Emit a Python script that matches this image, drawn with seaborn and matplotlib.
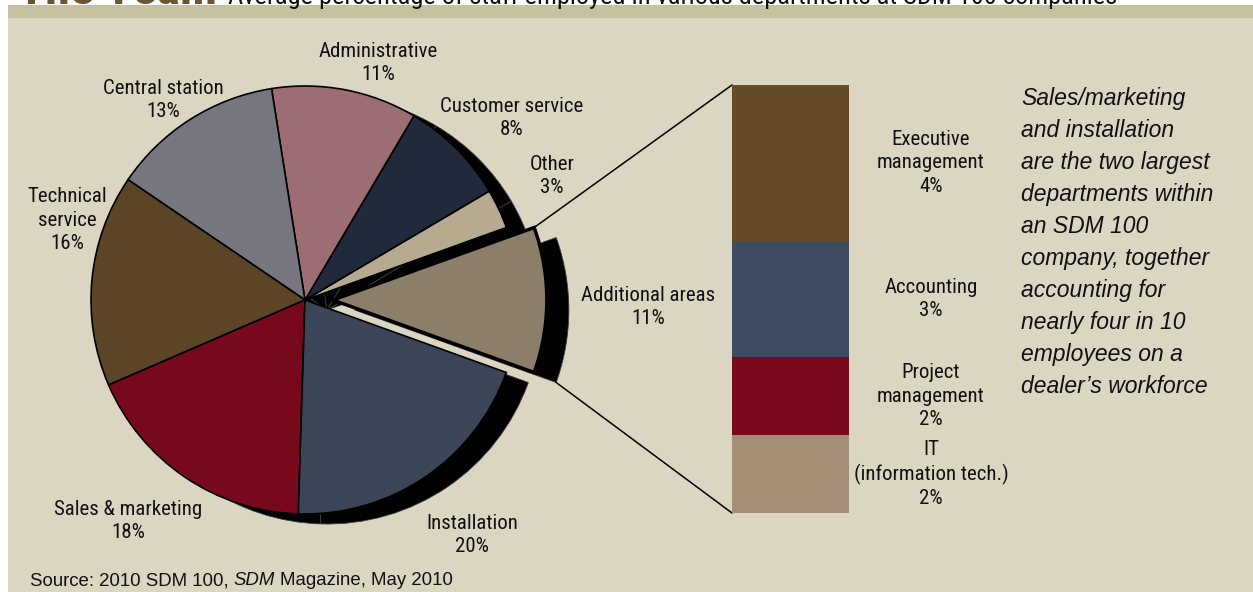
import matplotlib
matplotlib.use("Agg")
import matplotlib.pyplot as plt
import seaborn as sns
import numpy as np
from matplotlib import font_manager
from matplotlib.patches import Rectangle

# ---------------- data ----------------
slice_labels = ["Additional areas", "Other", "Customer service", "Administrative",
                "Central station", "Technical\nservice", "Sales & marketing", "Installation"]
slice_values = [11, 3, 8, 11, 13, 16, 18, 20]
slice_colors = ["#8c7f6a", "#b6ab8f", "#212a3a", "#9c6e73",
                "#76767e", "#5c4524", "#78091d", "#3a4557"]

detail_labels = ["IT\n(information tech.)", "Project\nmanagement", "Accounting", "Executive\nmanagement"]
detail_values = [2, 2, 3, 4]
detail_colors = ["#a38f76", "#7a091d", "#3f4c5f", "#654b28"]

title_text = "The Team"
subtitle_text = "Average percentage of staff employed in various departments at SDM 100 companies"
note_lines = ["Sales/marketing", "and installation", "are the two largest",
              "departments within", "an SDM 100", "company, together",
              "accounting for", "nearly four in 10", "employees on a",
              "dealer\u2019s workforce"]

# ---------------- layout ----------------
W, H = 1253, 592
BG = "#dbd6c1"
BAND = "#c6c29f"
label_pos = [(648, 307), (552, 176), (512, 118), (378, 63),
             (163, 100), (67, 220), (128, 521), (472, 535)]

sns.set_theme(style="white")
names = {f.name for f in font_manager.fontManager.ttflist}
if "Liberation Sans Narrow" in names:
    narrow_kw = dict(family=["Liberation Sans Narrow", "DejaVu Sans"])
elif "Roboto Condensed" in names:
    narrow_kw = dict(family=["Roboto Condensed", "DejaVu Sans"])
else:
    narrow_kw = dict(family=["DejaVu Sans"], fontstretch="condensed")
reg_family = ["Liberation Sans", "DejaVu Sans"] if "Liberation Sans" in names else ["DejaVu Sans"]
plt.rcParams["font.family"] = reg_family

fig = plt.figure(figsize=(W / 100, H / 100), dpi=100, facecolor="white")
ax = fig.add_axes([0, 0, 1, 1])
ax.set_facecolor("none")

def Y(y):
    return H - y

# background panel & band
ax.add_patch(Rectangle((8, 0), W - 8, H - 18, facecolor=BG, edgecolor="none", zorder=-10))
ax.add_patch(Rectangle((8, H - 18), W - 8, 13, facecolor=BAND, edgecolor="none", zorder=-10))

cx, cy, R = 305, Y(300), 214
explode = [0.13 * R] + [0] * (len(slice_values) - 1)
start = -180 * slice_values[0] / sum(slice_values)
sx, sy = 22, -10

shadow, _ = ax.pie(slice_values, colors=["black"] * len(slice_values), startangle=start,
                   explode=explode, center=(cx + sx, cy + sy), radius=R,
                   wedgeprops=dict(edgecolor="#3a3a3a", linewidth=0.6))
wedges, _ = ax.pie(slice_values, colors=slice_colors, startangle=start,
                   explode=explode, center=(cx, cy), radius=R,
                   wedgeprops=dict(edgecolor="black", linewidth=1.2))
wedges[0].set_linewidth(2.5)
ax.set_aspect("auto")
ax.set_xlim(0, W)
ax.set_ylim(0, H)
ax.axis("off")

lab_fs = 15
lsp = 1.3
for (lab, v, (lx, ly)) in zip(slice_labels, slice_values, label_pos):
    ax.text(lx, Y(ly), f"{lab}\n{v}%", ha="center", va="center", fontsize=lab_fs,
            linespacing=lsp, color="#111111", **narrow_kw)

# detail bar
bx0, bx1, by0, by1 = 732, 849, 85, 513
axb = fig.add_axes([bx0 / W, (H - by1) / H, (bx1 - bx0) / W, (by1 - by0) / H])
axb.set_facecolor("none")
cum = np.cumsum(detail_values)
for c, col in zip(cum[::-1], detail_colors[::-1]):
    sns.barplot(x=["Additional areas"], y=[c], color=col, width=1, saturation=1,
                linewidth=0, ax=axb)
axb.set_xlim(-0.5, 0.5)
axb.set_ylim(0, cum[-1])
axb.axis("off")
mids = cum - np.array(detail_values) / 2
for lab, v, m in zip(detail_labels, detail_values, mids):
    axb.text(1.2, m, f"{lab}\n{v}%", ha="center", va="center", fontsize=lab_fs,
             linespacing=lsp, color="#111111", clip_on=False, **narrow_kw)

# connector lines
w0 = wedges[0]
t2 = np.deg2rad(w0.theta2)
p_up = (w0.center[0] + w0.r * np.cos(t2), w0.center[1] + w0.r * np.sin(t2))
s0 = shadow[0]
t1 = np.deg2rad(s0.theta1)
p_dn = (s0.center[0] + s0.r * np.cos(t1), s0.center[1] + s0.r * np.sin(t1))
ax.plot([p_up[0], bx0], [p_up[1], Y(by0)], color="black", lw=1.1)
ax.plot([p_dn[0], bx0], [p_dn[1], Y(by1)], color="black", lw=1.1)

# note text
for i, line in enumerate(note_lines):
    ax.text(1021, Y(105 + 32 * i), line, ha="left", va="baseline", fontsize=16.5,
            style="italic", color="#111111")

# title (cut off at top, as in the source)
ax.text(18, Y(4), title_text, ha="left", va="baseline", fontsize=36,
        fontweight="bold", color="#6b5530", **narrow_kw)
ax.text(228, Y(4), subtitle_text, ha="left", va="baseline", fontsize=19,
        color="#111111", **narrow_kw)

# source line with italic piece
fig.canvas.draw()
r = fig.canvas.get_renderer()
inv = ax.transData.inverted()
x = 30
for piece, st in [("Source: 2010 SDM 100,", "normal"), ("SDM", "italic"),
                  ("Magazine, May 2010", "normal")]:
    tt = ax.text(x, Y(585), piece, ha="left", va="baseline", fontsize=13.4,
                 style=st, color="#111111")
    bb = tt.get_window_extent(renderer=r)
    x = inv.transform((bb.x1, bb.y0))[0] + 5

fig.savefig("out.png", dpi=100, facecolor="white")
